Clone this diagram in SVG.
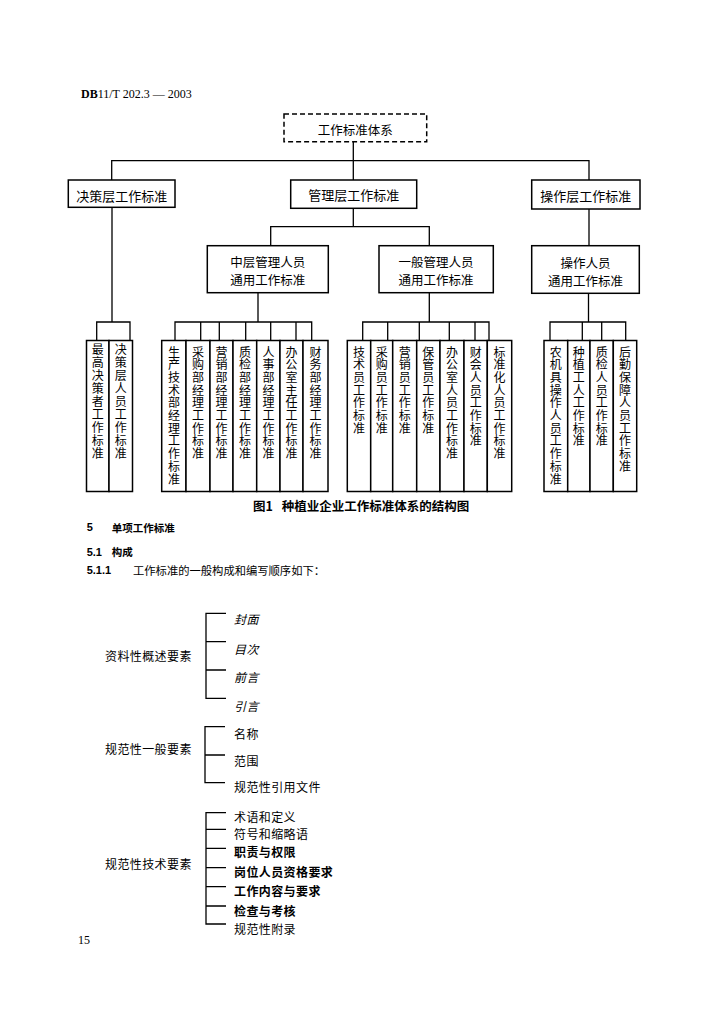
<svg xmlns="http://www.w3.org/2000/svg" width="727" height="1024" viewBox="0 0 727 1024">
<style>
.box{fill:#fff;stroke:#000;stroke-width:1.5}
.dash{fill:#fff;stroke:#000;stroke-width:1.5;stroke-dasharray:5 3}
.ln{fill:none;stroke:#000;stroke-width:1.3}
.t{font-family:"Noto Sans CJK SC","Noto Sans CJK JP",sans-serif;fill:#000;dominant-baseline:central}
.c{text-anchor:middle}
.l1{font-size:13px}
.l2{font-size:12.5px}
.lf{font-size:12px;text-anchor:middle}
.li{font-size:12px;letter-spacing:0.4px}
.it{font-style:italic}
.b{font-weight:bold}
.lat{font-family:"Liberation Serif",serif;fill:#000}
</style>
<rect width="727" height="1024" fill="#fff"/>
<text class="lat" x="81" y="97.5" font-size="12"><tspan font-weight="bold">DB</tspan>11/T 202.3 — 2003</text>

<g id="connectors">
<path class="ln" d="M353.3 141.7V180 M111.7 180V160.7H589V180"/>
<path class="ln" d="M112 207.3V322 M96.7 340.5V322H130V340.5"/>
<path class="ln" d="M353.3 208.3V226.7 M270.7 245.7V226.7H429.3V245.7"/>
<path class="ln" d="M589 209V245.7"/>
<path class="ln" d="M258 292.7V322 M175 340.5V322H311.7V340.5 M200.7 322V340.5 M219.3 322V340.5 M245.7 322V340.5 M270.7 322V340.5 M296 322V340.5"/>
<path class="ln" d="M429.3 292.7V322 M362.7 340.5V322H489V340.5 M387.7 322V340.5 M419.3 322V340.5 M449.3 322V340.5 M475 322V340.5"/>
<path class="ln" d="M588.5 293.3V322 M550 340.5V322H625.7V340.5 M582.3 322V340.5 M601.7 322V340.5"/>
</g>

<g id="root"><rect class="dash" x="284" y="114" width="142.7" height="27.7"/><text class="t c l2" x="355.3" y="129">工作标准体系</text></g>

<g id="n-juece"><rect class="box" x="68.3" y="180" width="106.7" height="27.3"/><text class="t c l1" x="121.7" y="195">决策层工作标准</text></g>
<g id="n-guanli"><rect class="box" x="290.7" y="180" width="126" height="28.3"/><text class="t c l1" x="353.7" y="194.5">管理层工作标准</text></g>
<g id="n-caozuo"><rect class="box" x="531.7" y="180" width="108.3" height="29"/><text class="t c l1" x="585.8" y="195">操作层工作标准</text></g>

<g id="n-zhongceng"><rect class="box" x="207.3" y="245.7" width="121" height="47"/><text class="t c l2" x="267.8" y="261.7">中层管理人员</text><text class="t c l2" x="267.8" y="279">通用工作标准</text></g>
<g id="n-yiban"><rect class="box" x="379" y="245.7" width="114.3" height="47"/><text class="t c l2" x="436" y="261.7">一般管理人员</text><text class="t c l2" x="436" y="279">通用工作标准</text></g>
<g id="n-caozuorenyuan"><rect class="box" x="531.7" y="245.7" width="107.6" height="47.6"/><text class="t c l2" x="585.5" y="262.3">操作人员</text><text class="t c l2" x="585.5" y="280">通用工作标准</text></g>

<g id="leaf-g1">
<rect class="box" x="86.5" y="340.5" width="22.5" height="151"/>
<rect class="box" x="109" y="340.5" width="23.5" height="151"/>
<text class="t lf" x="97.7 97.7 97.7 97.7 97.7 97.7 97.7 97.7 97.7" y="348 361 374 387 400 413 426 439 452">最高决策者工作标准</text>
<text class="t lf" x="120.7 120.7 120.7 120.7 120.7 120.7 120.7 120.7 120.7" y="348 361 374 387 400 413 426 439 452">决策层人员工作标准</text>
</g>

<g id="leaf-g2">
<rect class="box" x="161.7" y="340.5" width="24.3" height="151"/>
<rect class="box" x="186" y="340.5" width="24" height="151"/>
<rect class="box" x="210" y="340.5" width="23" height="151"/>
<rect class="box" x="233" y="340.5" width="23.7" height="151"/>
<rect class="box" x="256.7" y="340.5" width="23.3" height="151"/>
<rect class="box" x="280" y="340.5" width="23" height="151"/>
<rect class="box" x="303" y="340.5" width="25" height="151"/>
<text class="t lf" x="173.9 173.9 173.9 173.9 173.9 173.9 173.9 173.9 173.9 173.9 173.9" y="351 363.7 376.4 389.1 401.8 414.5 427.2 439.9 452.6 465.3 478">生产技术部经理工作标准</text>
<text class="t lf" x="198 198 198 198 198 198 198 198 198" y="351 363.7 376.4 389.1 401.8 414.5 427.2 439.9 452.6">采购部经理工作标准</text>
<text class="t lf" x="221.5 221.5 221.5 221.5 221.5 221.5 221.5 221.5 221.5" y="351 363.7 376.4 389.1 401.8 414.5 427.2 439.9 452.6">营销部经理工作标准</text>
<text class="t lf" x="244.9 244.9 244.9 244.9 244.9 244.9 244.9 244.9 244.9" y="351 363.7 376.4 389.1 401.8 414.5 427.2 439.9 452.6">质检部经理工作标准</text>
<text class="t lf" x="268.4 268.4 268.4 268.4 268.4 268.4 268.4 268.4 268.4" y="351 363.7 376.4 389.1 401.8 414.5 427.2 439.9 452.6">人事部经理工作标准</text>
<text class="t lf" x="291.5 291.5 291.5 291.5 291.5 291.5 291.5 291.5 291.5" y="351 363.7 376.4 389.1 401.8 414.5 427.2 439.9 452.6">办公室主任工作标准</text>
<text class="t lf" x="315.5 315.5 315.5 315.5 315.5 315.5 315.5 315.5 315.5" y="351 363.7 376.4 389.1 401.8 414.5 427.2 439.9 452.6">财务部经理工作标准</text>
</g>

<g id="leaf-g3">
<rect class="box" x="347.3" y="340.5" width="23.4" height="151"/>
<rect class="box" x="370.7" y="340.5" width="22" height="151"/>
<rect class="box" x="392.7" y="340.5" width="24" height="151"/>
<rect class="box" x="416.7" y="340.5" width="23.3" height="151"/>
<rect class="box" x="440" y="340.5" width="24" height="151"/>
<rect class="box" x="464" y="340.5" width="23.3" height="151"/>
<rect class="box" x="487.3" y="340.5" width="24.4" height="151"/>
<text class="t lf" x="359 359 359 359 359 359 359" y="351 363.7 376.4 389.1 401.8 414.5 427.2">技术员工作标准</text>
<text class="t lf" x="381.7 381.7 381.7 381.7 381.7 381.7 381.7" y="351 363.7 376.4 389.1 401.8 414.5 427.2">采购员工作标准</text>
<text class="t lf" x="404.7 404.7 404.7 404.7 404.7 404.7 404.7" y="351 363.7 376.4 389.1 401.8 414.5 427.2">营销员工作标准</text>
<text class="t lf" x="428.3 428.3 428.3 428.3 428.3 428.3 428.3" y="351 363.7 376.4 389.1 401.8 414.5 427.2">保管员工作标准</text>
<text class="t lf" x="452 452 452 452 452 452 452 452 452" y="351 363.7 376.4 389.1 401.8 414.5 427.2 439.9 452.6">办公室人员工作标准</text>
<text class="t lf" x="475.7 475.7 475.7 475.7 475.7 475.7 475.7 475.7" y="351 363.7 376.4 389.1 401.8 414.5 427.2 439.9">财会人员工作标准</text>
<text class="t lf" x="499.5 499.5 499.5 499.5 499.5 499.5 499.5 499.5 499.5" y="351 363.7 376.4 389.1 401.8 414.5 427.2 439.9 452.6">标准化人员工作标准</text>
</g>

<g id="leaf-g4">
<rect class="box" x="544" y="340.5" width="23.7" height="151"/>
<rect class="box" x="567.7" y="340.5" width="22.3" height="151"/>
<rect class="box" x="590" y="340.5" width="23.3" height="151"/>
<rect class="box" x="613.3" y="340.5" width="23.4" height="151"/>
<text class="t lf" x="555.8 555.8 555.8 555.8 555.8 555.8 555.8 555.8 555.8 555.8 555.8" y="351 363.7 376.4 389.1 401.8 414.5 427.2 439.9 452.6 465.3 478">农机具操作人员工作标准</text>
<text class="t lf" x="578.8 578.8 578.8 578.8 578.8 578.8 578.8 578.8" y="351 363.7 376.4 389.1 401.8 414.5 427.2 439.9">种植工人工作标准</text>
<text class="t lf" x="601.7 601.7 601.7 601.7 601.7 601.7 601.7 601.7" y="351 363.7 376.4 389.1 401.8 414.5 427.2 439.9">质检人员工作标准</text>
<text class="t lf" x="625 625 625 625 625 625 625 625 625 625" y="351 363.7 376.4 389.1 401.8 414.5 427.2 439.9 452.6 465.3">后勤保障人员工作标准</text>
</g>

<g id="caption">
<text class="t b" x="253" y="505" font-size="12.5">图1</text>
<text class="t b" x="281.7" y="505" font-size="12.5">种植业企业工作标准体系的结构图</text>
</g>

<g id="section">
<text x="86.7" y="531" font-family="Liberation Sans,sans-serif" font-size="11" font-weight="bold">5</text>
<text class="t b" x="111.7" y="527" font-size="10.5">单项工作标准</text>
<text x="86.7" y="555.7" font-family="Liberation Sans,sans-serif" font-size="11" font-weight="bold">5.1</text>
<text class="t b" x="111.7" y="551.7" font-size="10.5">构成</text>
<text x="86.7" y="574" font-family="Liberation Sans,sans-serif" font-size="11" font-weight="bold">5.1.1</text>
<text class="t" x="133" y="570" font-size="11.3">工作标准的一般构成和编写顺序如下：</text>
</g>

<g id="list-ziliao">
<text class="t li" x="105" y="655">资料性概述要素</text>
<path class="ln" d="M226 613.3H206V698.3H226 M206 641.7H226 M206 670H226"/>
<text class="t li it" x="234" y="618.3">封面</text>
<text class="t li it" x="234" y="648.3">目次</text>
<text class="t li it" x="234" y="676.7">前言</text>
<text class="t li it" x="234" y="705">引言</text>
</g>

<g id="list-yiban">
<text class="t li" x="105" y="748.3">规范性一般要素</text>
<path class="ln" d="M225 726.7H205V782.7H225 M205 755H225"/>
<text class="t li" x="234" y="733.3">名称</text>
<text class="t li" x="234" y="760">范围</text>
<text class="t li" x="234" y="786.7">规范性引用文件</text>
</g>

<g id="list-jishu">
<text class="t li" x="105" y="863.3">规范性技术要素</text>
<path class="ln" d="M226 812.7H206V924H226 M206 829.3H226 M206 848.3H226 M206 867.7H226 M206 886.7H226 M206 906H226"/>
<text class="t li" x="234" y="816">术语和定义</text>
<text class="t li" x="234" y="833.3">符号和缩略语</text>
<text class="t li b" x="234" y="851.7">职责与权限</text>
<text class="t li b" x="234" y="871.7">岗位人员资格要求</text>
<text class="t li b" x="234" y="890.7">工作内容与要求</text>
<text class="t li b" x="234" y="910">检查与考核</text>
<text class="t li" x="234" y="928.3">规范性附录</text>
</g>

<text class="lat" x="78" y="944" font-size="12">15</text>
</svg>
